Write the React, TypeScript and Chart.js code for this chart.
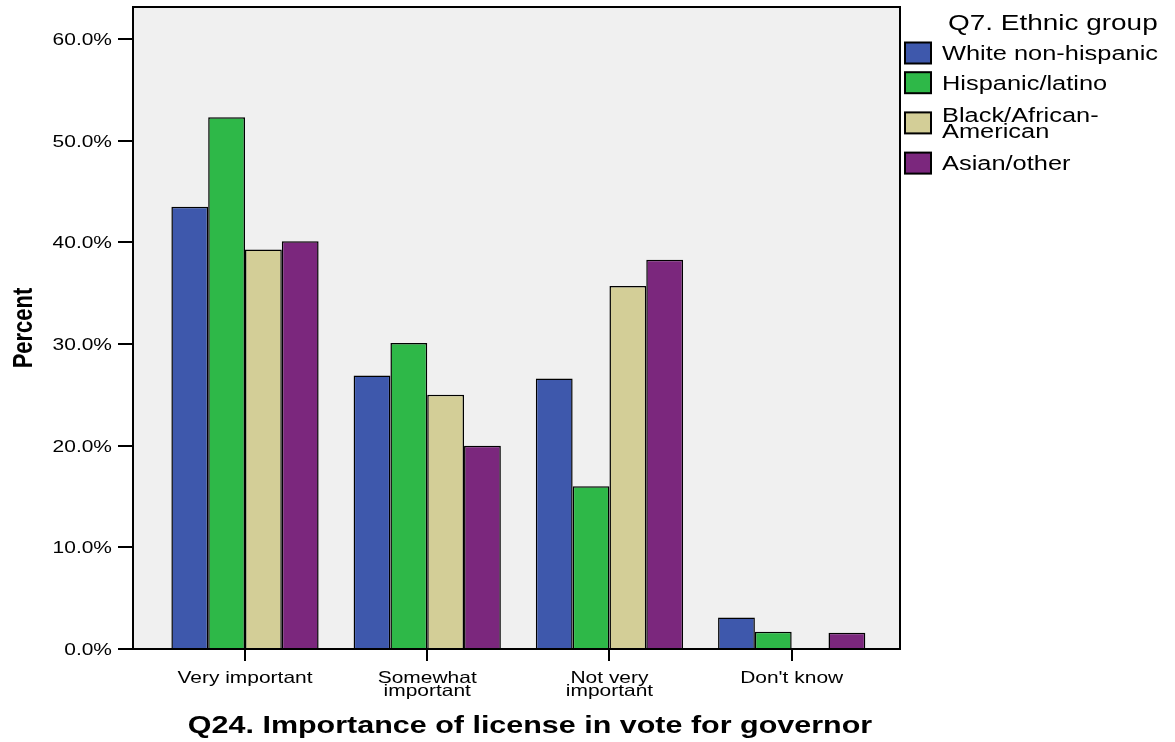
import React, { useEffect, useRef } from "react";
import { Chart, registerables } from "chart.js";

Chart.register(...registerables);

// ---- data ----
const categories: string[][] = [
  ["Very important"],
  ["Somewhat", "important"],
  ["Not very", "important"],
  ["Don't know"],
];
const seriesNames: string[][] = [
  ["White non-hispanic"],
  ["Hispanic/latino"],
  ["Black/African-", "American"],
  ["Asian/other"],
];
const whiteNonHispanic = [43.5, 26.9, 26.6, 3.1];
const hispanicLatino = [52.3, 30.1, 16.0, 1.7];
const blackAfricanAmerican = [39.3, 25.0, 35.7, 0];
const asianOther = [40.1, 20.0, 38.3, 1.6];
const yTickValues = [0, 10, 20, 30, 40, 50, 60];
const yTickLabels = ["0.0%", "10.0%", "20.0%", "30.0%", "40.0%", "50.0%", "60.0%"];
const legendTitle = "Q7. Ethnic group";
const xTitle = "Q24. Importance of license in vote for governor";
const yTitle = "Percent";

const seriesValues = [whiteNonHispanic, hispanicLatino, blackAfricanAmerican, asianOther];
const seriesColors = ["#3E58AC", "#2EB848", "#D3CE97", "#7B277D"];

const FONT = '"Liberation Sans", Arial, Helvetica, sans-serif';
const SX = 1.27;

function stretchedText(
  ctx: CanvasRenderingContext2D,
  text: string,
  x: number,
  y: number,
  font: string,
  align: CanvasTextAlign,
  rotate = 0
) {
  ctx.save();
  ctx.translate(x, y);
  ctx.scale(SX, 1);
  if (rotate) ctx.rotate(rotate);
  ctx.font = font;
  ctx.textAlign = align;
  ctx.textBaseline = "alphabetic";
  ctx.fillStyle = "#000";
  ctx.fillText(text, 0, 0);
  ctx.restore();
}

const spssPlugin = {
  id: "spssLook",
  beforeDraw(chart: any) {
    const { ctx, chartArea: a } = chart;
    ctx.save();
    ctx.fillStyle = "#ffffff";
    ctx.fillRect(0, 0, chart.width, chart.height);
    ctx.fillStyle = "#F0F0F0";
    ctx.fillRect(a.left, a.top, a.right - a.left, a.bottom - a.top);
    ctx.restore();
  },
  afterDatasetsDraw(chart: any) {
    const { ctx, chartArea: a } = chart;
    ctx.save();
    ctx.strokeStyle = "#000";
    ctx.lineWidth = 2;
    ctx.strokeRect(a.left, a.top, a.right - a.left, a.bottom - a.top);
    ctx.restore();
  },
  afterDraw(chart: any) {
    const { ctx, chartArea: a } = chart;
    const xs = chart.scales.x;
    const ys = chart.scales.y;

    // y tick labels
    const tickFont = `16.5px ${FONT}`;
    yTickValues.forEach((v, i) => {
      const y = ys.getPixelForValue(v);
      stretchedText(ctx, yTickLabels[i], 112, y + 5.9, tickFont, "right");
    });

    // x tick labels
    categories.forEach((lines, i) => {
      const x = xs.getPixelForValue(i);
      lines.forEach((line, j) => {
        stretchedText(ctx, line, x, 683 + j * 12.5, tickFont, "center");
      });
    });

    // axis titles
    stretchedText(ctx, xTitle, 530, 733, `bold 24px ${FONT}`, "center");
    stretchedText(ctx, yTitle, 31.7, (a.top + a.bottom) / 2, `bold 22px ${FONT}`, "center", -Math.PI / 2);

    // legend
    stretchedText(ctx, legendTitle, 948, 30, `22px ${FONT}`, "left");
    const single = 29.7;
    const lineGap = 16;
    let yTop = 38.15;
    const labelFont = `20px ${FONT}`;
    seriesNames.forEach((lines, k) => {
      const h = single + (lines.length - 1) * 21;
      const cy = yTop + h / 2;
      ctx.save();
      ctx.fillStyle = seriesColors[k];
      ctx.fillRect(905, cy - 10.5, 26, 21);
      ctx.strokeStyle = "#000";
      ctx.lineWidth = 2;
      ctx.strokeRect(905, cy - 10.5, 26, 21);
      ctx.restore();
      const n = lines.length;
      lines.forEach((line, j) => {
        const by = cy + 7.2 + (j - (n - 1) / 2) * lineGap;
        stretchedText(ctx, line, 942, by, labelFont, "left");
      });
      yTop += h;
    });
  },
};

export default function App() {
  const canvasRef = useRef<HTMLCanvasElement | null>(null);

  useEffect(() => {
    document.body.style.margin = "0";
    const canvas = canvasRef.current;
    if (!canvas) return;
    const chart = new Chart(canvas, {
      type: "bar",
      data: {
        datasets: seriesValues.map((vals, k) => ({
          label: seriesNames[k].join(""),
          data: vals.map((y, i) => ({ x: i, y })),
          backgroundColor: seriesColors[k],
          borderColor: "#000",
          borderWidth: 1.5,
          categoryPercentage: 0.808,
          barPercentage: 1,
        })),
      },
      options: {
        responsive: false,
        animation: false,
        events: [],
        layout: { padding: { left: 0, right: 275, top: 7, bottom: 0 } },
        plugins: {
          legend: { display: false },
          tooltip: { enabled: false },
        },
        scales: {
          x: {
            type: "linear",
            min: -0.6146,
            max: 3.5944,
            offset: false,
            grid: {
              offset: false,
              drawOnChartArea: false,
              drawTicks: true,
              tickLength: 12,
              color: "#000",
              lineWidth: 2,
            },
            border: { display: false },
            ticks: { display: false },
            afterBuildTicks: (s: any) => {
              s.ticks = categories.map((_, i) => ({ value: i }));
            },
            afterFit: (s: any) => {
              s.height = 93;
            },
          },
          y: {
            type: "linear",
            min: 0,
            max: 63.15,
            grid: {
              drawOnChartArea: false,
              drawTicks: true,
              tickLength: 15,
              color: "#000",
              lineWidth: 2,
            },
            border: { display: false },
            ticks: { display: false },
            afterBuildTicks: (s: any) => {
              s.ticks = yTickValues.map((v) => ({ value: v }));
            },
            afterFit: (s: any) => {
              s.width = 133;
            },
          },
        },
      } as any,
      plugins: [spssPlugin],
    });
    return () => chart.destroy();
  }, []);

  return (
    <div style={{ width: 1175, height: 742 }}>
      <canvas ref={canvasRef} width={1175} height={742} style={{ display: "block" }} />
    </div>
  );
}
